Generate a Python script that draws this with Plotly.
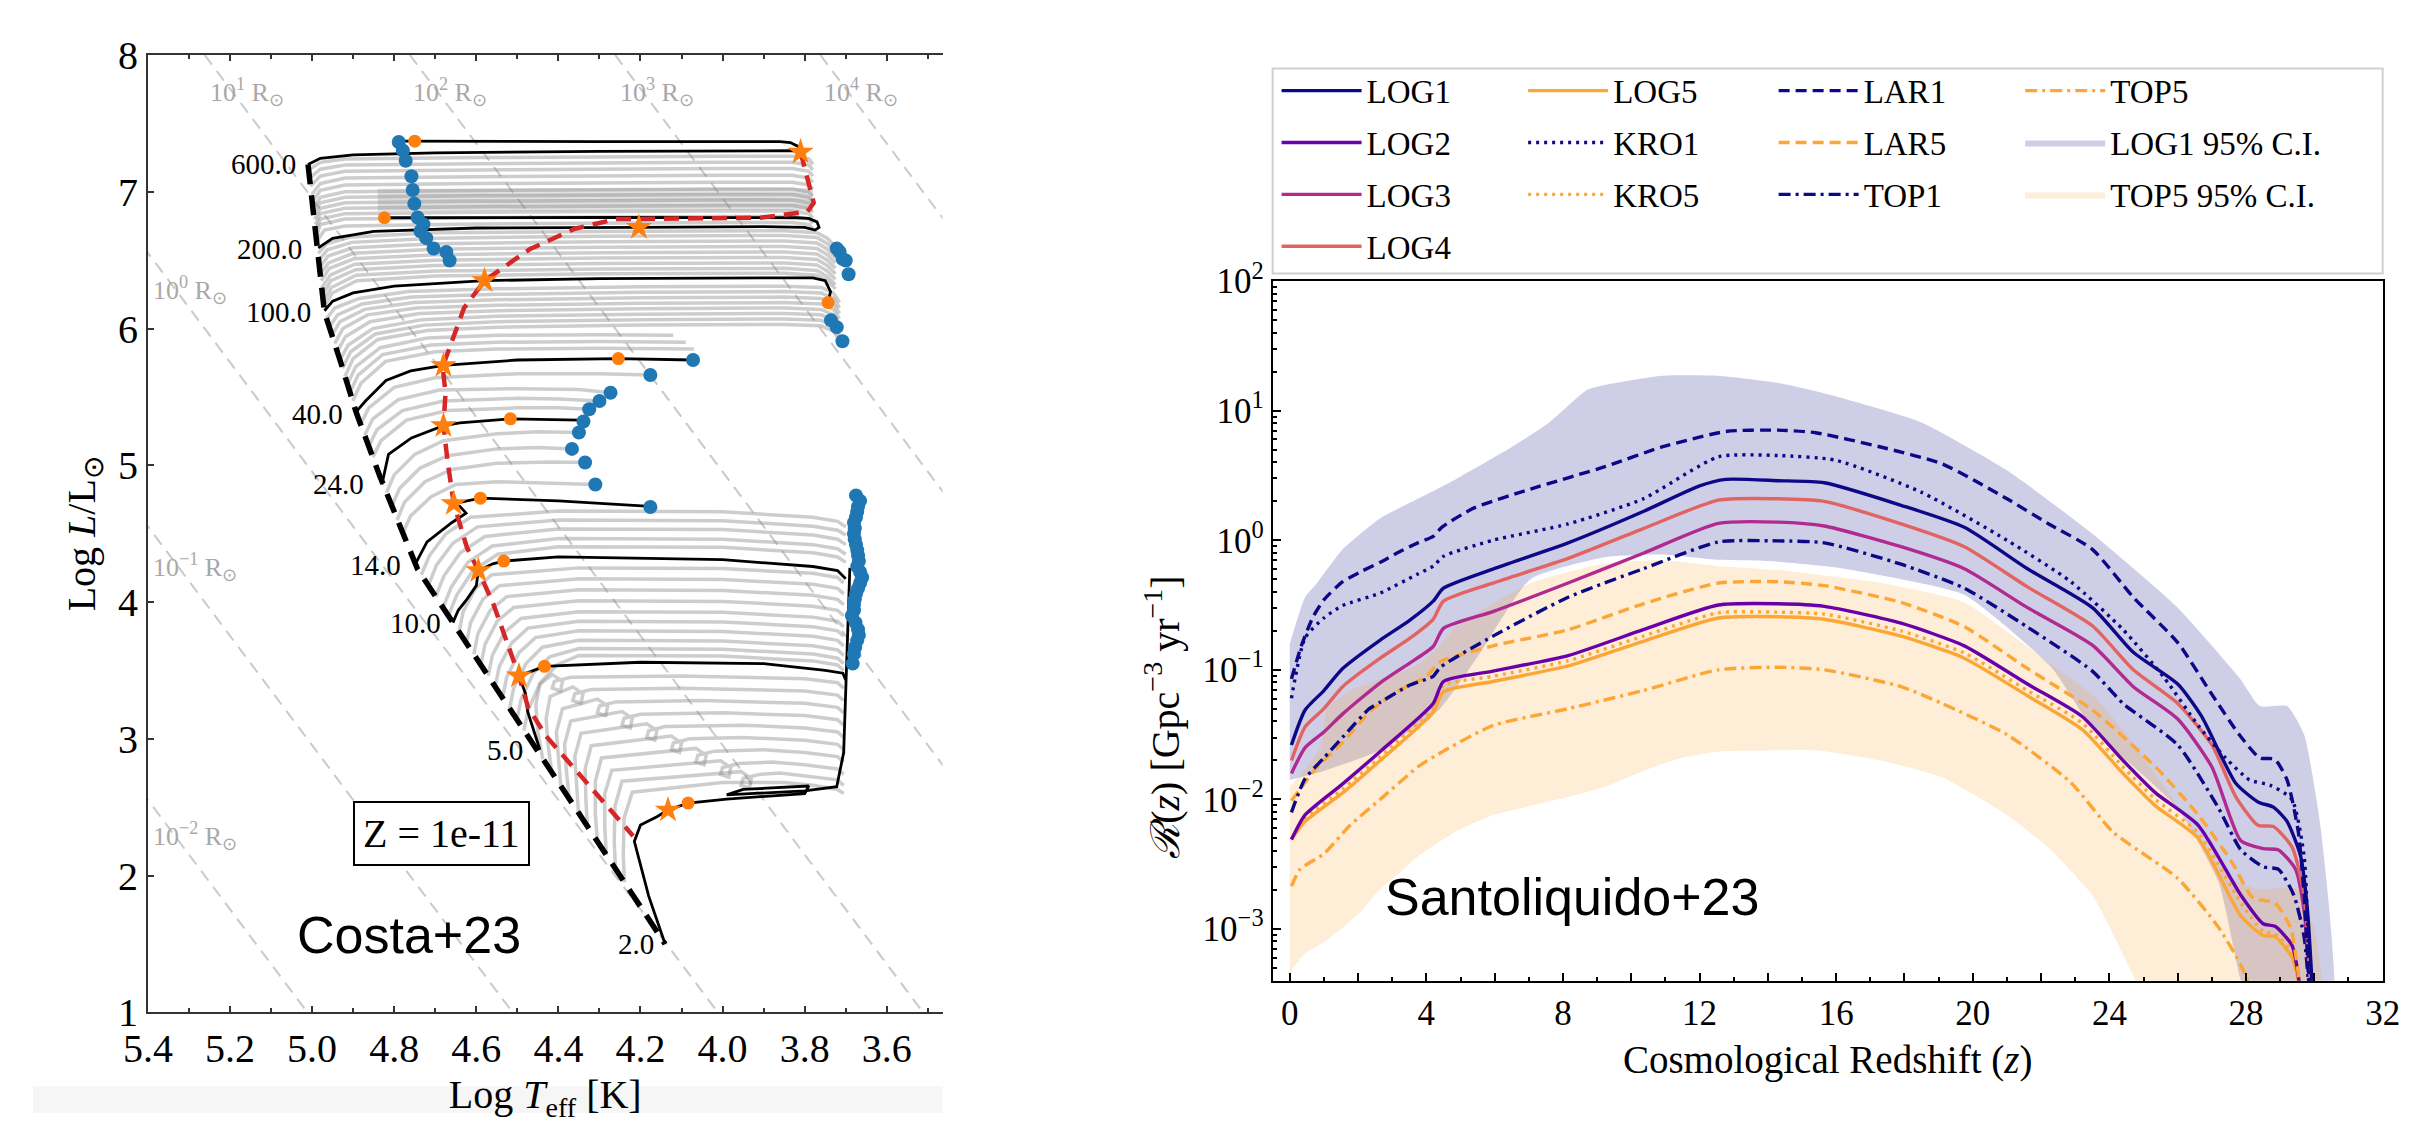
import plotly.graph_objects as go

W, H = 2429, 1128
SERIF = "Liberation Serif"
SANS = "Liberation Sans"

# =================== LEFT PANEL DATA (Costa+23 HR diagram) ===================
ZAMS_T = [5.01, 4.99, 4.97, 4.93, 4.893, 4.835, 4.79, 4.743, 4.602, 4.453, 4.303, 4.14]
ZAMS_L = [7.20, 6.70, 6.12, 5.75, 5.39, 4.92, 4.58, 4.24, 3.60, 2.92, 2.24, 1.50]

TAMS_T = [3.81, 3.778, 3.793, 3.907, 4.26, 4.36, 4.47, 4.58, 4.63, 4.658, 4.682, 4.675, 4.68, 4.67,
          4.655, 4.623, 4.595, 4.559, 4.496, 4.474, 4.43, 4.218]
TAMS_L = [7.29, 6.92, 6.855, 6.81, 6.80, 6.73, 6.58, 6.35, 6.15, 5.91, 5.72, 5.53, 5.29, 5.03,
          4.72, 4.40, 4.23, 3.99, 3.46, 3.23, 3.02, 2.29]

RADIUS_T_TOP = [6.7617, 6.2617, 5.7617, 5.2617, 4.7617, 4.2617, 3.7617]      # at log L = 8
RADIUS_T_BOTTOM = [5.0117, 4.5117, 4.0117, 3.5117, 3.0117, 2.5117, 2.0117]   # at log L = 1
RADIUS_LABELS = ["10<sup>1</sup> R<sub>⊙</sub>", "10<sup>2</sup> R<sub>⊙</sub>",
                 "10<sup>3</sup> R<sub>⊙</sub>", "10<sup>4</sup> R<sub>⊙</sub>",
                 "10<sup>0</sup> R<sub>⊙</sub>", "10<sup>−1</sup> R<sub>⊙</sub>",
                 "10<sup>−2</sup> R<sub>⊙</sub>"]
RADIUS_LABEL_T = [5.254, 4.758, 4.254, 3.757, 5.392, 5.392, 5.392]
RADIUS_LABEL_L = [7.73, 7.73, 7.73, 7.73, 6.285, 4.26, 2.29]

MASS_LABELS = ["600.0", "200.0", "100.0", "40.0", "24.0", "14.0", "10.0", "5.0", "2.0"]
MASS_LABEL_T = [5.034, 5.02, 4.999, 4.92, 4.869, 4.779, 4.68, 4.481, 4.162]
MASS_LABEL_L = [7.20, 6.58, 6.12, 5.375, 4.86, 4.27, 3.85, 2.92, 1.50]

TRACK_600_T = [5.01, 4.98, 4.90, 4.70, 4.30, 3.90, 3.83, 3.81, 3.815, 3.835, 3.86, 4.30, 4.75, 4.789]
TRACK_600_L = [7.20, 7.245, 7.27, 7.285, 7.295, 7.30, 7.30, 7.29, 7.33, 7.36, 7.367, 7.367, 7.37, 7.37]
TRACK_200_T = [4.985, 4.95, 4.85, 4.60, 4.204, 3.90, 3.80, 3.775, 3.765, 3.77, 3.79, 3.82, 4.30, 4.824]
TRACK_200_L = [6.59, 6.66, 6.71, 6.735, 6.74, 6.745, 6.74, 6.72, 6.74, 6.78, 6.805, 6.81, 6.812, 6.81]
TRACK_100_T = [4.97, 4.95, 4.90, 4.80, 4.58, 4.30, 3.90, 3.78, 3.75, 3.737, 3.743]
TRACK_100_L = [6.13, 6.20, 6.26, 6.31, 6.35, 6.365, 6.37, 6.37, 6.35, 6.27, 6.19]
TRACK_40_T = [4.893, 4.87, 4.82, 4.76, 4.68, 4.50, 4.254, 4.072]
TRACK_40_L = [5.39, 5.47, 5.62, 5.69, 5.73, 5.77, 5.78, 5.77]
TRACK_24_T = [4.83, 4.814, 4.758, 4.68, 4.64, 4.517, 4.346]
TRACK_24_L = [4.86, 5.08, 5.20, 5.29, 5.31, 5.34, 5.33]
TRACK_14_T = [4.75, 4.72, 4.66, 4.625, 4.64, 4.655, 4.59, 4.40, 4.176]
TRACK_14_L = [4.27, 4.44, 4.58, 4.65, 4.70, 4.72, 4.76, 4.74, 4.70]
TRACK_10_T = [4.657, 4.644, 4.623, 4.60, 4.595, 4.56, 4.533, 4.40, 4.00, 3.78, 3.72, 3.70]
TRACK_10_L = [3.85, 3.94, 4.02, 4.12, 4.23, 4.28, 4.30, 4.33, 4.31, 4.26, 4.23, 4.17]
TRACK_5_T = [4.445, 4.465, 4.475, 4.48, 4.496, 4.434, 4.20, 3.90, 3.75, 3.707, 3.70]
TRACK_5_L = [2.92, 3.10, 3.20, 3.33, 3.46, 3.53, 3.56, 3.55, 3.50, 3.48, 3.43]
TRACK_2_T = [4.14, 4.18, 4.215, 4.20, 4.16, 4.133, 4.084, 3.99, 3.80, 3.79, 3.95, 3.99, 3.80, 3.722,
             3.705, 3.70, 3.695, 3.69]
TRACK_2_L = [1.50, 1.85, 2.25, 2.37, 2.43, 2.48, 2.53, 2.56, 2.60, 2.655, 2.63, 2.59, 2.62, 2.65,
             2.90, 3.40, 3.90, 4.25]

GRAY_TRACKS_A = [
    ([5.008, 4.98, 4.92, 4.60, 4.00, 3.83, 3.79, 3.78], [7.16, 7.215, 7.24, 7.25, 7.26, 7.26, 7.24, 7.20]),
    ([5.006, 4.98, 4.92, 4.60, 4.00, 3.83, 3.79, 3.78], [7.10, 7.165, 7.195, 7.205, 7.215, 7.215, 7.195, 7.16]),
    ([5.004, 4.98, 4.92, 4.60, 4.00, 3.83, 3.79, 3.78], [7.04, 7.115, 7.15, 7.16, 7.17, 7.17, 7.15, 7.115]),
    ([5.001, 4.98, 4.92, 4.60, 4.00, 3.83, 3.79, 3.78], [6.98, 7.06, 7.10, 7.11, 7.12, 7.12, 7.10, 7.07]),
    ([4.999, 4.98, 4.92, 4.60, 4.00, 3.83, 3.79, 3.78], [6.93, 7.01, 7.05, 7.06, 7.07, 7.07, 7.05, 7.02]),
    ([4.997, 4.98, 4.92, 4.60, 4.00, 3.83, 3.79, 3.78], [6.88, 6.96, 7.00, 7.01, 7.02, 7.02, 7.00, 6.97]),
    ([4.996, 4.98, 4.92, 4.60, 4.00, 3.83, 3.79, 3.78], [6.84, 6.92, 6.96, 6.97, 6.98, 6.98, 6.96, 6.93]),
    ([4.994, 4.98, 4.92, 4.60, 4.00, 3.83, 3.79, 3.78], [6.80, 6.88, 6.92, 6.93, 6.94, 6.94, 6.92, 6.89]),
    ([4.992, 4.98, 4.92, 4.60, 4.00, 3.83, 3.79, 3.78], [6.76, 6.84, 6.88, 6.89, 6.90, 6.90, 6.88, 6.85]),
    ([4.991, 4.98, 4.92, 4.60, 4.00, 3.83, 3.79, 3.78], [6.72, 6.80, 6.84, 6.85, 6.86, 6.86, 6.84, 6.81]),
    ([4.989, 4.98, 4.92, 4.60, 4.00, 3.83, 3.79, 3.78], [6.68, 6.76, 6.80, 6.81, 6.82, 6.82, 6.80, 6.77]),
    ([4.988, 4.97, 4.92, 4.60, 4.00, 3.83, 3.79, 3.78], [6.64, 6.72, 6.75, 6.765, 6.775, 6.775, 6.76, 6.73]),
]
GRAY_TRACKS_RETURN = [
    ([3.78, 3.80, 3.90, 4.40, 4.84], [7.00, 7.005, 7.008, 7.005, 7.00]),
    ([3.78, 3.80, 3.90, 4.40, 4.84], [6.96, 6.965, 6.968, 6.965, 6.96]),
    ([3.78, 3.80, 3.90, 4.40, 4.84], [6.92, 6.925, 6.928, 6.925, 6.92]),
    ([3.78, 3.80, 3.90, 4.40, 4.84], [6.88, 6.885, 6.888, 6.885, 6.88]),
]
GRAY_TRACKS_B = [
    ([4.985, 4.965, 4.905, 4.70, 4.30, 3.85, 3.77, 3.745, 3.725], [6.55, 6.62, 6.67, 6.70, 6.71, 6.715, 6.70, 6.66, 6.60]),
    ([4.983, 4.963, 4.903, 4.70, 4.30, 3.85, 3.77, 3.745, 3.725], [6.50, 6.575, 6.63, 6.66, 6.675, 6.68, 6.665, 6.62, 6.56]),
    ([4.981, 4.961, 4.901, 4.70, 4.30, 3.85, 3.77, 3.745, 3.725], [6.45, 6.53, 6.59, 6.62, 6.635, 6.64, 6.625, 6.58, 6.52]),
    ([4.980, 4.960, 4.900, 4.70, 4.30, 3.85, 3.77, 3.745, 3.725], [6.40, 6.48, 6.55, 6.58, 6.595, 6.60, 6.585, 6.54, 6.48]),
    ([4.978, 4.958, 4.898, 4.70, 4.30, 3.85, 3.77, 3.745, 3.725], [6.35, 6.44, 6.51, 6.54, 6.555, 6.56, 6.545, 6.50, 6.44]),
    ([4.976, 4.956, 4.896, 4.70, 4.30, 3.85, 3.77, 3.745, 3.725], [6.30, 6.39, 6.47, 6.50, 6.515, 6.52, 6.505, 6.46, 6.40]),
    ([4.974, 4.954, 4.894, 4.70, 4.30, 3.85, 3.77, 3.745, 3.725], [6.25, 6.35, 6.43, 6.46, 6.475, 6.48, 6.465, 6.42, 6.36]),
    ([4.973, 4.953, 4.893, 4.70, 4.30, 3.85, 3.77, 3.745, 3.725], [6.20, 6.30, 6.39, 6.42, 6.435, 6.44, 6.425, 6.38, 6.32]),
    ([4.971, 4.951, 4.891, 4.70, 4.30, 3.85, 3.77, 3.745, 3.725], [6.16, 6.26, 6.35, 6.385, 6.40, 6.405, 6.39, 6.35, 6.29]),
]
GRAY_TRACKS_C = [
    ([4.965, 4.945, 4.885, 4.765, 4.55, 4.2, 3.85, 3.76, 3.73, 3.715], [6.07, 6.15, 6.22, 6.27, 6.29, 6.305, 6.31, 6.30, 6.26, 6.19]),
    ([4.958, 4.938, 4.878, 4.758, 4.55, 4.2, 3.85, 3.76, 3.73, 3.715], [6.01, 6.10, 6.18, 6.23, 6.25, 6.265, 6.27, 6.26, 6.22, 6.15]),
    ([4.952, 4.932, 4.872, 4.752, 4.55, 4.2, 3.85, 3.76, 3.73, 3.715], [5.95, 6.05, 6.14, 6.19, 6.21, 6.225, 6.23, 6.22, 6.18, 6.11]),
    ([4.945, 4.925, 4.865, 4.745, 4.55, 4.2, 3.85, 3.76, 3.73, 3.715], [5.89, 6.00, 6.10, 6.15, 6.17, 6.185, 6.19, 6.18, 6.14, 6.07]),
    ([4.939, 4.919, 4.859, 4.739, 4.55, 4.2, 3.85, 3.76, 3.73, 3.715], [5.83, 5.94, 6.05, 6.11, 6.13, 6.145, 6.15, 6.14, 6.10, 6.03]),
    ([4.932, 4.912, 4.852, 4.732, 4.55, 4.2, 3.85, 3.76, 3.73, 3.715], [5.77, 5.88, 6.00, 6.065, 6.09, 6.105, 6.11, 6.10, 6.06, 5.99]),
    ([4.926, 4.906, 4.846, 4.726, 4.55, 4.2, 3.85, 3.76, 3.73, 3.715], [5.71, 5.83, 5.96, 6.025, 6.05, 6.065, 6.07, 6.06, 6.02, 5.95]),
    ([4.920, 4.900, 4.840, 4.720, 4.55, 4.2, 3.85, 3.76, 3.73, 3.715], [5.65, 5.78, 5.92, 5.985, 6.01, 6.025, 6.03, 6.02, 5.98, 5.91]),
    ([4.914, 4.894, 4.834, 4.72, 4.55, 4.30, 4.12], [5.59, 5.72, 5.86, 5.93, 5.95, 5.955, 5.95]),
    ([4.908, 4.888, 4.828, 4.71, 4.55, 4.30, 4.09], [5.53, 5.66, 5.81, 5.88, 5.90, 5.905, 5.90]),
    ([4.901, 4.881, 4.821, 4.70, 4.55, 4.30, 4.07], [5.47, 5.60, 5.76, 5.83, 5.85, 5.855, 5.85]),
]
GRAY_TRACKS_D = [
    ([4.882, 4.862, 4.80, 4.70, 4.50, 4.30, 4.176], [5.30, 5.42, 5.57, 5.64, 5.67, 5.67, 5.66]),
    ([4.872, 4.852, 4.79, 4.69, 4.50, 4.35, 4.273], [5.22, 5.34, 5.48, 5.55, 5.56, 5.555, 5.53]),
    ([4.862, 4.842, 4.78, 4.68, 4.50, 4.40, 4.30], [5.14, 5.26, 5.40, 5.47, 5.49, 5.485, 5.47]),
    ([4.852, 4.832, 4.77, 4.67, 4.50, 4.40, 4.325], [5.06, 5.18, 5.33, 5.40, 5.42, 5.42, 5.41]),
    ([4.819, 4.80, 4.75, 4.68, 4.55, 4.45, 4.35], [4.80, 4.93, 5.08, 5.18, 5.23, 5.245, 5.24]),
    ([4.806, 4.787, 4.737, 4.67, 4.55, 4.45, 4.367], [4.70, 4.83, 4.98, 5.07, 5.12, 5.13, 5.12]),
    ([4.793, 4.775, 4.725, 4.66, 4.55, 4.42, 4.335], [4.60, 4.73, 4.88, 4.97, 5.015, 5.025, 5.02]),
    ([4.78, 4.76, 4.71, 4.65, 4.55, 4.40, 4.31], [4.50, 4.63, 4.77, 4.86, 4.88, 4.87, 4.86]),
]
GRAY_TRACKS_E = [
    ([4.734, 4.714, 4.674, 4.614, 4.40, 4.00, 3.78, 3.72, 3.70], [4.20, 4.34, 4.50, 4.62, 4.665, 4.66, 4.62, 4.59, 4.55]),
    ([4.717, 4.697, 4.657, 4.597, 4.40, 4.00, 3.78, 3.72, 3.70], [4.12, 4.27, 4.43, 4.55, 4.60, 4.595, 4.555, 4.525, 4.49]),
    ([4.699, 4.679, 4.639, 4.579, 4.40, 4.00, 3.78, 3.72, 3.70], [4.04, 4.19, 4.36, 4.48, 4.535, 4.53, 4.49, 4.46, 4.42]),
    ([4.681, 4.661, 4.621, 4.561, 4.40, 4.00, 3.78, 3.72, 3.70], [3.96, 4.11, 4.29, 4.41, 4.465, 4.46, 4.42, 4.39, 4.35]),
    ([4.668, 4.648, 4.608, 4.548, 4.40, 4.00, 3.78, 3.72, 3.70], [3.90, 4.05, 4.23, 4.35, 4.405, 4.40, 4.36, 4.33, 4.29]),
]
GRAY_TRACKS_F = [
    ([4.642, 4.632, 4.602, 4.562, 4.35, 4.0, 3.78, 3.72, 3.705], [3.78, 3.93, 4.10, 4.20, 4.25, 4.245, 4.21, 4.18, 4.14]),
    ([4.624, 4.614, 4.584, 4.544, 4.35, 4.0, 3.78, 3.72, 3.705], [3.70, 3.85, 4.02, 4.12, 4.17, 4.165, 4.13, 4.10, 4.06]),
    ([4.606, 4.596, 4.566, 4.526, 4.35, 4.0, 3.78, 3.72, 3.705], [3.62, 3.77, 3.94, 4.04, 4.09, 4.085, 4.05, 4.02, 3.98]),
    ([4.589, 4.579, 4.549, 4.509, 4.35, 4.0, 3.78, 3.72, 3.705], [3.54, 3.69, 3.86, 3.96, 4.01, 4.005, 3.97, 3.94, 3.90]),
    ([4.571, 4.561, 4.531, 4.491, 4.35, 4.0, 3.78, 3.72, 3.705], [3.46, 3.61, 3.78, 3.88, 3.93, 3.925, 3.89, 3.86, 3.82]),
    ([4.554, 4.544, 4.514, 4.474, 4.35, 4.0, 3.78, 3.72, 3.705], [3.38, 3.53, 3.70, 3.81, 3.86, 3.855, 3.82, 3.79, 3.75]),
    ([4.536, 4.526, 4.496, 4.456, 4.35, 4.0, 3.78, 3.72, 3.705], [3.30, 3.45, 3.63, 3.74, 3.79, 3.785, 3.75, 3.72, 3.68]),
    ([4.519, 4.509, 4.479, 4.439, 4.35, 4.0, 3.78, 3.72, 3.705], [3.22, 3.37, 3.55, 3.67, 3.72, 3.715, 3.68, 3.65, 3.61]),
    ([4.501, 4.491, 4.461, 4.421, 4.35, 4.0, 3.78, 3.72, 3.705], [3.14, 3.29, 3.48, 3.60, 3.66, 3.655, 3.62, 3.59, 3.55]),
    ([4.484, 4.474, 4.444, 4.404, 4.35, 4.0, 3.78, 3.72, 3.705], [3.06, 3.21, 3.41, 3.54, 3.61, 3.605, 3.57, 3.54, 3.50]),
]
GRAY_TRACKS_G = [
    ([4.438, 4.45, 4.455, 4.445, 4.415, 4.39, 4.395, 4.415, 4.41, 4.37, 4.1, 3.8, 3.72, 3.705],
     [2.85, 3.05, 3.25, 3.40, 3.47, 3.42, 3.35, 3.37, 3.42, 3.45, 3.46, 3.44, 3.41, 3.37]),
    ([4.416, 4.425, 4.43, 4.42, 4.365, 4.34, 4.345, 4.365, 4.36, 4.32, 4.1, 3.8, 3.72, 3.705],
     [2.75, 2.95, 3.15, 3.31, 3.38, 3.33, 3.26, 3.28, 3.33, 3.36, 3.37, 3.35, 3.32, 3.28]),
    ([4.394, 4.40, 4.405, 4.39, 4.305, 4.28, 4.285, 4.305, 4.30, 4.26, 4.05, 3.8, 3.72, 3.705],
     [2.65, 2.85, 3.05, 3.22, 3.29, 3.24, 3.17, 3.19, 3.24, 3.27, 3.28, 3.26, 3.23, 3.19]),
    ([4.373, 4.38, 4.385, 4.37, 4.245, 4.22, 4.225, 4.245, 4.24, 4.20, 4.0, 3.8, 3.72, 3.705],
     [2.55, 2.75, 2.96, 3.13, 3.20, 3.15, 3.08, 3.10, 3.15, 3.18, 3.19, 3.17, 3.14, 3.10]),
    ([4.351, 4.355, 4.36, 4.345, 4.185, 4.16, 4.165, 4.185, 4.18, 4.14, 3.95, 3.8, 3.72, 3.705],
     [2.45, 2.65, 2.87, 3.04, 3.11, 3.06, 2.99, 3.01, 3.06, 3.09, 3.10, 3.08, 3.05, 3.01]),
    ([4.329, 4.333, 4.335, 4.32, 4.125, 4.10, 4.105, 4.125, 4.12, 4.08, 3.95, 3.8, 3.72, 3.705],
     [2.35, 2.55, 2.78, 2.95, 3.02, 2.97, 2.90, 2.92, 2.97, 3.00, 3.01, 2.99, 2.96, 2.92]),
    ([4.305, 4.31, 4.31, 4.295, 4.065, 4.04, 4.045, 4.065, 4.06, 4.02, 3.9, 3.8, 3.72, 3.705],
     [2.25, 2.45, 2.69, 2.86, 2.93, 2.88, 2.81, 2.83, 2.88, 2.91, 2.92, 2.90, 2.87, 2.83]),
    ([4.283, 4.287, 4.287, 4.27, 4.005, 3.98, 3.985, 4.005, 4.0, 3.96, 3.88, 3.8, 3.72, 3.705],
     [2.15, 2.35, 2.60, 2.77, 2.84, 2.79, 2.72, 2.74, 2.79, 2.82, 2.83, 2.81, 2.78, 2.74]),
    ([4.261, 4.264, 4.262, 4.245, 3.955, 3.93, 3.935, 3.955, 3.95, 3.91, 3.86, 3.8, 3.72, 3.705],
     [2.05, 2.25, 2.51, 2.69, 2.76, 2.71, 2.64, 2.66, 2.71, 2.74, 2.75, 2.73, 2.70, 2.66]),
    ([4.239, 4.242, 4.24, 4.22, 4.0, 3.85, 3.78, 3.72, 3.705],
     [1.95, 2.15, 2.42, 2.61, 2.68, 2.68, 2.66, 2.63, 2.60]),
]

BLUE_T = [4.789, 4.779, 4.772, 4.758, 4.755, 4.751, 4.743, 4.729, 4.736, 4.722, 4.704, 4.673, 4.665,
          3.722, 3.715, 3.708, 3.70, 3.693, 3.736, 3.722, 3.708,
          4.072, 4.176, 4.273, 4.30, 4.325, 4.339, 4.35, 4.367, 4.335, 4.31, 4.176,
          3.675, 3.665, 3.67, 3.672, 3.675, 3.68, 3.678, 3.68, 3.678, 3.675, 3.672, 3.67, 3.668, 3.672,
          3.665, 3.66, 3.665, 3.67, 3.675, 3.678, 3.68, 3.68, 3.685, 3.676, 3.67, 3.668, 3.672, 3.677,
          3.68, 3.683]
BLUE_L = [7.364, 7.302, 7.227, 7.114, 7.013, 6.912, 6.812, 6.762, 6.711, 6.661, 6.585, 6.560, 6.497,
          6.586, 6.561, 6.51, 6.497, 6.397, 6.06, 6.01, 5.907,
          5.77, 5.66, 5.53, 5.47, 5.41, 5.32, 5.24, 5.12, 5.02, 4.86, 4.695,
          4.78, 4.74, 4.70, 4.66, 4.62, 4.58, 4.54, 4.50, 4.46, 4.42, 4.38, 4.34, 4.30, 4.26,
          4.22, 4.18, 4.14, 4.10, 4.06, 4.02, 3.98, 3.94, 3.90, 3.85, 3.80, 3.76, 3.72, 3.67,
          3.62, 3.55]
ORANGE_DOT_T = [4.750, 4.824, 3.743, 4.254, 4.517, 4.59, 4.533, 4.434, 4.084]
ORANGE_DOT_L = [7.37, 6.81, 6.19, 5.78, 5.34, 4.76, 4.30, 3.53, 2.53]
STAR_T = [3.81, 4.204, 4.58, 4.68, 4.68, 4.655, 4.595, 4.496, 4.133]
STAR_L = [7.29, 6.74, 6.35, 5.73, 5.29, 4.72, 4.23, 3.46, 2.48]

X_TICKS_LEFT = [5.4, 5.2, 5.0, 4.8, 4.6, 4.4, 4.2, 4.0, 3.8, 3.6]
Y_TICKS_LEFT = [1, 2, 3, 4, 5, 6, 7, 8]

# =================== RIGHT PANEL DATA (Santoliquido+23), log10 R(z) ===================
Z_LAR1 = [0.05, 0.34, 0.68, 1.0, 1.55, 2.1, 2.65, 3.2, 3.75, 4.2, 4.45, 5.4, 7.05, 9.25, 10.9, 12.77,
          14.3, 15.4, 17.3, 19.1, 21.0, 22.2, 23.5, 24.7, 26.0, 27.0, 27.8, 28.4, 28.84, 29.2, 29.53,
          29.7, 29.85]
LG_LAR1 = [-1.07, -0.815, -0.593, -0.46, -0.32, -0.24, -0.17, -0.09, -0.02, 0.03, 0.10, 0.25, 0.395,
           0.57, 0.72, 0.84, 0.85, 0.83, 0.72, 0.59, 0.32, 0.13, -0.07, -0.44, -0.79, -1.19, -1.50,
           -1.68, -1.69, -1.85, -2.25, -2.74, -3.5]
Z_KRO1 = [0.05, 0.45, 1.0, 1.55, 2.65, 3.75, 4.2, 4.5, 5.95, 8.15, 10.35, 12.55, 14.3, 16.0, 18.5,
          21.0, 22.87, 24.4, 25.6, 26.6, 27.4, 28.1, 28.7, 29.34, 29.7, 29.85]
LG_KRO1 = [-1.22, -0.753, -0.60, -0.504, -0.407, -0.26, -0.20, -0.124, 0.0, 0.126, 0.32, 0.644,
           0.654, 0.617, 0.37, 0.0, -0.32, -0.69, -1.06, -1.43, -1.68, -1.85, -1.89, -2.0, -2.44, -3.5]
Z_LOG1 = [0.05, 0.45, 1.0, 1.55, 2.65, 3.5, 4.2, 4.5, 5.95, 8.15, 10.35, 12.0, 12.77, 14.3, 15.65,
          17.9, 19.75, 21.6, 23.5, 24.7, 26.0, 26.7, 27.7, 28.35, 28.8, 29.2, 29.6, 29.8, 29.95]
LG_LOG1 = [-1.58, -1.31, -1.16, -0.99, -0.77, -0.62, -0.47, -0.37, -0.222, -0.02, 0.222, 0.42, 0.47,
           0.46, 0.444, 0.27, 0.10, -0.22, -0.52, -0.865, -1.11, -1.36, -1.876, -2.02, -2.06, -2.17,
           -2.44, -2.86, -3.5]
Z_LOG4 = [0.05, 0.45, 1.0, 1.55, 2.65, 3.5, 4.2, 4.5, 5.95, 8.15, 10.35, 12.55, 14.3, 15.65, 17.9,
          19.75, 21.6, 23.5, 24.7, 26.0, 27.0, 27.7, 28.35, 28.8, 29.35, 29.7, 29.9]
LG_LOG4 = [-1.70, -1.44, -1.30, -1.13, -0.91, -0.76, -0.61, -0.47, -0.33, -0.14, 0.09, 0.31, 0.32,
           0.30, 0.126, -0.05, -0.36, -0.66, -1.00, -1.26, -1.58, -1.98, -2.20, -2.21, -2.37, -2.74, -3.5]
Z_LOG3 = [0.05, 0.45, 1.0, 1.55, 2.65, 3.5, 4.2, 4.5, 5.95, 8.15, 10.35, 12.55, 14.3, 15.65, 17.9,
          19.75, 21.6, 23.5, 24.7, 26.0, 27.0, 27.85, 28.5, 28.95, 29.45, 29.7, 29.9]
LG_LOG3 = [-1.80, -1.60, -1.48, -1.34, -1.10, -0.95, -0.82, -0.68, -0.55, -0.33, -0.10, 0.13, 0.14,
           0.11, -0.05, -0.22, -0.52, -0.81, -1.13, -1.38, -1.75, -2.32, -2.38, -2.39, -2.54, -2.86, -3.5]
Z_TOP1 = [0.05, 0.45, 1.0, 1.55, 2.33, 2.65, 3.5, 4.2, 4.41, 5.95, 8.15, 10.35, 12.55, 14.3, 15.65,
          17.9, 19.75, 21.6, 23.5, 24.4, 26.0, 27.2, 27.85, 28.5, 28.95, 29.4, 29.7, 29.85]
LG_TOP1 = [-2.10, -1.84, -1.68, -1.52, -1.30, -1.25, -1.12, -1.05, -0.98, -0.74, -0.44, -0.22, -0.013,
           -0.005, -0.02, -0.185, -0.37, -0.67, -1.01, -1.26, -1.58, -2.07, -2.39, -2.52, -2.54,
           -2.74, -3.06, -3.5]
Z_LAR5 = [0.05, 0.45, 0.8, 1.55, 2.4, 3.2, 4.0, 4.4, 5.95, 8.15, 10.35, 12.55, 14.3, 15.65, 17.9,
          19.75, 21.6, 23.5, 25.35, 26.6, 27.6, 28.2, 28.85, 29.3, 29.6]
LG_LAR5 = [-2.01, -1.87, -1.75, -1.56, -1.31, -1.16, -1.05, -0.94, -0.815, -0.69, -0.49, -0.33, -0.32,
           -0.35, -0.48, -0.667, -0.99, -1.31, -1.75, -2.12, -2.49, -2.76, -2.80, -2.99, -3.5]
Z_LOW = [0.05, 0.45, 1.55, 2.65, 4.2, 4.5, 5.95, 8.15, 10.35, 12.55, 14.3, 15.65, 17.9, 19.75, 21.6,
         23.2, 24.4, 25.35, 26.6, 27.85, 28.5, 28.85, 29.35, 29.6]
LG_LOG2 = [-2.31, -2.12, -1.88, -1.63, -1.26, -1.09, -1.01, -0.89, -0.69, -0.50, -0.49, -0.51, -0.64,
           -0.815, -1.11, -1.36, -1.70, -1.95, -2.20, -2.74, -2.96, -2.98, -3.13, -3.5]
LG_KRO5 = [-2.31, -2.15, -1.92, -1.67, -1.29, -1.12, -1.05, -0.93, -0.74, -0.56, -0.555, -0.57, -0.70,
           -0.87, -1.16, -1.41, -1.75, -2.00, -2.26, -2.80, -3.02, -3.04, -3.18, -3.5]
LG_LOG5 = [-2.31, -2.17, -1.95, -1.70, -1.33, -1.17, -1.09, -0.97, -0.78, -0.60, -0.59, -0.61, -0.74,
           -0.91, -1.20, -1.46, -1.80, -2.05, -2.30, -2.90, -3.05, -3.06, -3.22, -3.5]
Z_TOP5 = [0.05, 0.3, 1.0, 1.77, 2.65, 3.75, 4.35, 5.95, 8.15, 10.35, 12.55, 14.3, 15.65, 17.9, 19.1,
          21.0, 22.87, 24.1, 26.0, 27.2, 27.85, 28.2]
LG_TOP5 = [-2.67, -2.54, -2.42, -2.20, -2.0, -1.75, -1.65, -1.43, -1.30, -1.16, -1.0, -0.98, -1.0,
           -1.13, -1.26, -1.50, -1.87, -2.25, -2.61, -2.99, -3.28, -3.5]

Z_CI1_UP = [0.0, 0.45, 0.8, 1.55, 2.65, 3.75, 4.85, 6.5, 7.6, 8.7, 9.25, 10.9, 12.55, 14.4, 16.0, 18.5,
            21.0, 23.5, 26.0, 27.8, 28.4, 29.2, 29.7, 30.2, 30.5]
LG_CI1_UP = [-0.80, -0.44, -0.33, -0.07, 0.17, 0.32, 0.47, 0.72, 0.91, 1.16, 1.20, 1.27, 1.27, 1.21,
             1.11, 0.91, 0.54, 0.05, -0.52, -1.06, -1.28, -1.28, -1.5, -2.25, -3.8]
Z_CI1_LO = [0.0, 0.45, 1.0, 2.65, 4.4, 5.5, 7.05, 9.25, 10.9, 12.5, 14.0, 16.0, 17.3, 19.75, 22.3,
            23.5, 26.0, 27.2, 27.85, 28.5]
LG_CI1_LO = [-1.85, -1.82, -1.78, -1.62, -1.30, -0.90, -0.30, -0.13, -0.11, -0.15, -0.16, -0.21, -0.27,
             -0.42, -0.98, -1.45, -2.07, -2.64, -3.4, -3.8]
Z_CI5_UP = [0.0, 0.5, 0.9, 1.1, 1.77, 2.65, 3.75, 4.4, 4.85, 7.05, 9.25, 10.9, 12.55, 14.3, 17.3, 19.75,
            22.3, 23.5, 24.5, 26.0, 27.5, 28.3, 29.5, 30.0, 30.2]
LG_CI5_UP = [-1.9, -1.75, -1.6, -1.30, -1.16, -1.07, -0.96, -0.81, -0.67, -0.33, -0.18, -0.155, -0.20,
             -0.23, -0.33, -0.48, -0.96, -1.19, -1.5, -2.05, -2.6, -2.69, -2.69, -3.0, -3.8]
Z_CI5_LO = [0.0, 0.05, 0.45, 1.0, 1.55, 2.1, 2.65, 3.2, 3.75, 4.85, 5.95, 7.05, 8.15, 9.25, 10.35, 11.45,
            12.55, 14.3, 15.4, 17.3, 19.1, 21.0, 22.2, 23.5, 24.7, 25.5]
LG_CI5_LO = [-3.8, -3.33, -3.19, -3.10, -2.99, -2.86, -2.69, -2.57, -2.44, -2.25, -2.12, -2.05, -1.98,
             -1.90, -1.78, -1.68, -1.63, -1.62, -1.62, -1.70, -1.83, -2.12, -2.37, -2.74, -3.36, -3.8]

# =================== FIGURE ===================
fig = go.Figure()

GRAY = "rgba(135,135,135,0.42)"
GRAY_BAND = "rgba(120,120,120,0.22)"

for t0, t1 in zip(RADIUS_T_TOP, RADIUS_T_BOTTOM):
    fig.add_trace(go.Scatter(x=[t0, t1], y=[8, 1], mode="lines", showlegend=False, hoverinfo="skip",
                             line=dict(color="#c9c9c9", width=2, dash="12px,8px"), xaxis="x", yaxis="y"))

for ts, ls in GRAY_TRACKS_RETURN:
    fig.add_trace(go.Scatter(x=ts, y=ls, mode="lines", showlegend=False, hoverinfo="skip",
                             line=dict(color=GRAY_BAND, width=6), xaxis="x", yaxis="y"))

for group in (GRAY_TRACKS_A, GRAY_TRACKS_B, GRAY_TRACKS_C, GRAY_TRACKS_D,
              GRAY_TRACKS_E, GRAY_TRACKS_F, GRAY_TRACKS_G):
    for ts, ls in group:
        fig.add_trace(go.Scatter(x=ts, y=ls, mode="lines", showlegend=False, hoverinfo="skip",
                                 line=dict(color=GRAY, width=3.5), xaxis="x", yaxis="y"))

for ts, ls in ((TRACK_600_T, TRACK_600_L), (TRACK_200_T, TRACK_200_L), (TRACK_100_T, TRACK_100_L),
               (TRACK_40_T, TRACK_40_L), (TRACK_24_T, TRACK_24_L), (TRACK_14_T, TRACK_14_L),
               (TRACK_10_T, TRACK_10_L), (TRACK_5_T, TRACK_5_L), (TRACK_2_T, TRACK_2_L)):
    fig.add_trace(go.Scatter(x=ts, y=ls, mode="lines", showlegend=False, hoverinfo="skip",
                             line=dict(color="black", width=2.8), xaxis="x", yaxis="y"))

fig.add_trace(go.Scatter(x=ZAMS_T, y=ZAMS_L, mode="lines", showlegend=False, hoverinfo="skip",
                         line=dict(color="black", width=5.5, dash="20px,11px"), xaxis="x", yaxis="y"))
fig.add_trace(go.Scatter(x=TAMS_T, y=TAMS_L, mode="lines", showlegend=False, hoverinfo="skip",
                         line=dict(color="#d62728", width=4.5, dash="15px,9px"), xaxis="x", yaxis="y"))
fig.add_trace(go.Scatter(x=BLUE_T, y=BLUE_L, mode="markers", showlegend=False, hoverinfo="skip",
                         marker=dict(color="#1f77b4", size=14), xaxis="x", yaxis="y"))
fig.add_trace(go.Scatter(x=ORANGE_DOT_T, y=ORANGE_DOT_L, mode="markers", showlegend=False, hoverinfo="skip",
                         marker=dict(color="#ff7f0e", size=13), xaxis="x", yaxis="y"))
fig.add_trace(go.Scatter(x=STAR_T, y=STAR_L, mode="markers", showlegend=False, hoverinfo="skip",
                         marker=dict(color="#ff7f0e", size=20, symbol="star"), xaxis="x", yaxis="y"))

# ---- right panel ----
C1 = "#0d0887"
C2 = "#6a00a8"
C3 = "#b12a90"
C4 = "#e16462"
C5 = "#fca636"


def pw(vals):
    return [10 ** v for v in vals]


fig.add_trace(go.Scatter(x=Z_CI1_UP + Z_CI1_LO[::-1], y=pw(LG_CI1_UP + LG_CI1_LO[::-1]),
                         mode="lines", fill="toself", fillcolor="rgba(13,8,135,0.2)",
                         line=dict(width=0, color="rgba(13,8,135,0.2)", shape="spline", smoothing=0.5),
                         name="LOG1 95% C.I.",
                         xaxis="x2", yaxis="y2", legend="legend4", legendgroup="ci1", legendrank=2))
fig.add_trace(go.Scatter(x=Z_CI5_UP + Z_CI5_LO[::-1], y=pw(LG_CI5_UP + LG_CI5_LO[::-1]),
                         mode="lines", fill="toself", fillcolor="rgba(252,166,54,0.2)",
                         line=dict(width=0, color="rgba(252,166,54,0.2)", shape="spline", smoothing=0.5),
                         name="TOP5 95% C.I.",
                         xaxis="x2", yaxis="y2", legend="legend4", legendgroup="ci5", legendrank=3))

LINES = [
    ("TOP5", Z_TOP5, LG_TOP5, C5, "12px,5px,3px,5px", "legend4", 1),
    ("LOG5", Z_LOW, LG_LOG5, C5, "solid", "legend2", 1),
    ("KRO5", Z_LOW, LG_KRO5, C5, "3px,5px", "legend2", 3),
    ("LOG2", Z_LOW, LG_LOG2, C2, "solid", "legend", 2),
    ("LAR5", Z_LAR5, LG_LAR5, C5, "11px,6px", "legend3", 2),
    ("TOP1", Z_TOP1, LG_TOP1, C1, "12px,5px,3px,5px", "legend3", 3),
    ("LOG3", Z_LOG3, LG_LOG3, C3, "solid", "legend", 3),
    ("LOG4", Z_LOG4, LG_LOG4, C4, "solid", "legend", 4),
    ("LOG1", Z_LOG1, LG_LOG1, C1, "solid", "legend", 1),
    ("KRO1", Z_KRO1, LG_KRO1, C1, "3px,5px", "legend2", 2),
    ("LAR1", Z_LAR1, LG_LAR1, C1, "11px,6px", "legend3", 1),
]
for name, zs, lgs, col, dash, leg, rank in LINES:
    fig.add_trace(go.Scatter(x=zs, y=pw(lgs), mode="lines", name=name,
                             line=dict(color=col, width=3.4, dash=dash, shape="spline", smoothing=0.6),
                             xaxis="x2", yaxis="y2", legend=leg, legendgroup=name, legendrank=rank))

# ---- annotations ----
ann = []
for txt, t, l in zip(MASS_LABELS, MASS_LABEL_T, MASS_LABEL_L):
    ann.append(dict(x=t, y=l, xref="x", yref="y", text=txt, showarrow=False, xanchor="right",
                    yanchor="middle", font=dict(family=SERIF, size=29, color="black")))
for txt, t, l in zip(RADIUS_LABELS, RADIUS_LABEL_T, RADIUS_LABEL_L):
    ann.append(dict(x=t, y=l, xref="x", yref="y", text=txt, showarrow=False, xanchor="left",
                    yanchor="middle", font=dict(family=SERIF, size=26, color="#a8a8a8")))
ann.append(dict(x=325.5 / W, y=1 - 870.5 / H, xref="paper", yref="paper", text="Z = 1e-11",
                showarrow=False, font=dict(family=SERIF, size=40, color="black"),
                bordercolor="black", borderwidth=2, borderpad=8, bgcolor="white"))
ann.append(dict(x=267 / W, y=1 - 975 / H, xref="paper", yref="paper", text="Costa+23",
                showarrow=False, font=dict(family=SANS, size=52, color="black")))
ann.append(dict(x=1567 / W, y=1 - 935 / H, xref="paper", yref="paper", text="Santoliquido+23",
                showarrow=False, font=dict(family=SANS, size=52, color="black")))
ann.append(dict(x=1150 / W, y=1 - 715 / H, xref="paper", yref="paper", textangle=-90,
                text="<i>ℛ</i>(<i>z</i>) [Gpc<sup>−3</sup> yr<sup>−1</sup>]", showarrow=False,
                xanchor="center", yanchor="middle", font=dict(family=SERIF, size=40, color="black")))

shapes = [
    dict(type="rect", xref="paper", yref="paper", x0=0, x1=926 / W, y0=0, y1=1 - 1100 / H,
         fillcolor="#f6f6f6", line=dict(width=0), layer="below"),
    dict(type="rect", xref="paper", yref="paper", x0=1262 / W, x1=2392 / W, y0=1 - 252 / H,
         y1=1 - 38 / H, line=dict(color="#d0d0d0", width=2), fillcolor="rgba(0,0,0,0)"),
]

AX_COMMON = dict(showgrid=False, zeroline=False, showline=True)

leg_common = dict(font=dict(family=SERIF, size=33, color="black"), bgcolor="rgba(0,0,0,0)",
                  borderwidth=0, xanchor="left", yanchor="top", orientation="v",
                  tracegroupgap=6, itemwidth=80, traceorder="grouped")

fig.update_layout(
    width=W, height=H, margin=dict(l=0, r=0, t=0, b=0),
    paper_bgcolor="white", plot_bgcolor="white",
    font=dict(family=SERIF, color="black"),
    xaxis=dict(domain=[117 / W, 926 / W], range=[5.4, 3.464], anchor="y",
               tickmode="array", tickvals=X_TICKS_LEFT, ticktext=[f"{v:.1f}" for v in X_TICKS_LEFT],
               ticks="inside", ticklen=6, tickwidth=1.5, tickcolor="#333",
               minor=dict(dtick=0.1, tick0=3.6, ticks="inside", ticklen=4, tickcolor="#333"),
               linecolor="#333", linewidth=2, mirror="ticks",
               tickfont=dict(family=SERIF, size=40),
               title=dict(text="Log <i>T</i><sub>eff</sub> [K]", font=dict(family=SERIF, size=40),
                          standoff=10), **AX_COMMON),
    yaxis=dict(domain=[1 - 1023 / H, 1 - 24 / H], range=[1, 8], anchor="x",
               tickmode="array", tickvals=Y_TICKS_LEFT, ticktext=[str(v) for v in Y_TICKS_LEFT],
               ticks="inside", ticklen=6, tickwidth=1.5, tickcolor="#333",
               linecolor="#333", linewidth=2, mirror=False,
               tickfont=dict(family=SERIF, size=40),
               title=dict(text="Log <i>L</i>/L<sub>⊙</sub>", font=dict(family=SERIF, size=40),
                          standoff=10), **AX_COMMON),
    xaxis2=dict(domain=[1262 / W, 2392 / W], range=[-0.5, 32], anchor="y2",
                tickmode="array", tickvals=list(range(0, 33, 2)),
                ticktext=[str(v) if v % 4 == 0 else "" for v in range(0, 33, 2)],
                ticks="inside", ticklen=8, tickwidth=2, tickcolor="black",
                minor=dict(dtick=1, tick0=0, ticks="inside", ticklen=4, tickwidth=1.5, tickcolor="black"),
                linecolor="black", linewidth=2, mirror=True,
                tickfont=dict(family=SERIF, size=35),
                title=dict(text="Cosmological Redshift (<i>z</i>)", font=dict(family=SERIF, size=39),
                           standoff=14), **AX_COMMON),
    yaxis2=dict(domain=[1 - 990 / H, 1 - 260 / H], type="log", range=[-3.4, 2], anchor="x2",
                tickmode="array", tickvals=[1e-3, 1e-2, 1e-1, 1, 10, 100],
                ticktext=["10<sup>−3</sup>", "10<sup>−2</sup>", "10<sup>−1</sup>", "10<sup>0</sup>",
                          "10<sup>1</sup>", "10<sup>2</sup>"],
                ticks="inside", ticklen=8, tickwidth=2, tickcolor="black",
                minor=dict(tickvals=[k * 10 ** e for e in range(-4, 2) for k in range(2, 10)],
                           ticks="inside", ticklen=4, tickwidth=1.5, tickcolor="black"),
                linecolor="black", linewidth=2, mirror=True,
                tickfont=dict(family=SERIF, size=35), **AX_COMMON),
    legend=dict(x=1266 / W, y=1 - 32 / H, **leg_common),
    legend2=dict(x=1517 / W, y=1 - 32 / H, **leg_common),
    legend3=dict(x=1772 / W, y=1 - 32 / H, **leg_common),
    legend4=dict(x=2023 / W, y=1 - 32 / H, **leg_common),
    annotations=ann,
    shapes=shapes,
)

fig.write_html("out.html")
